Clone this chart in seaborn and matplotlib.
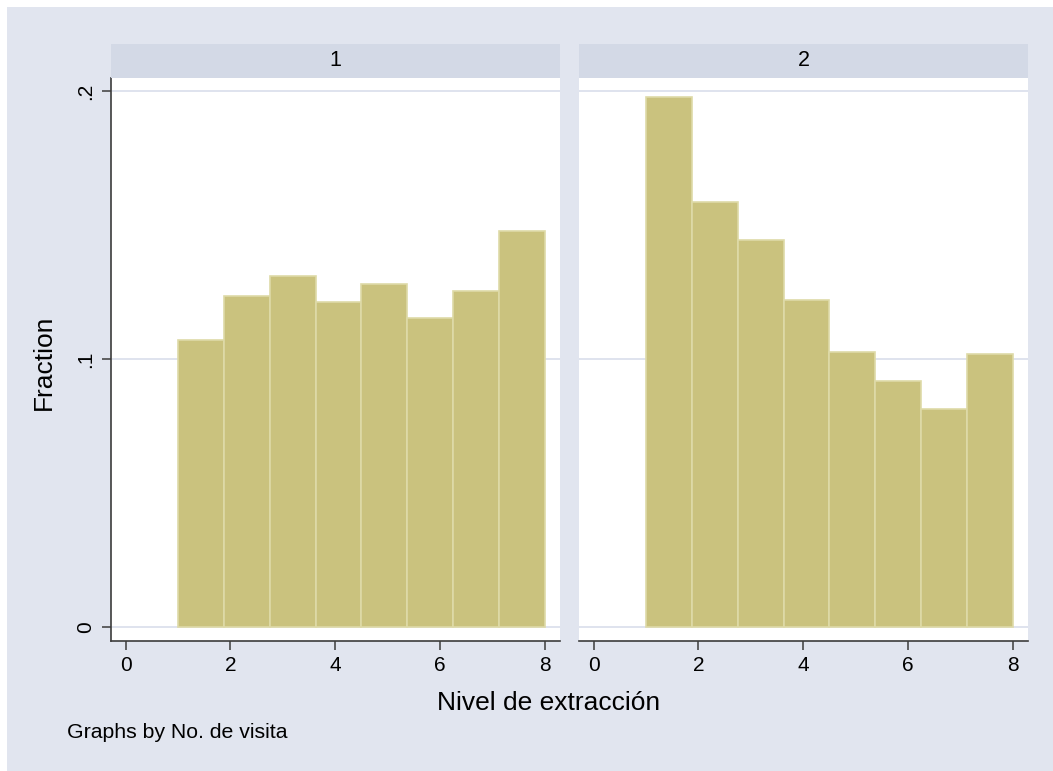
import numpy as np
import pandas as pd
import matplotlib
matplotlib.use("Agg")
import matplotlib.pyplot as plt
from matplotlib.patches import Rectangle
import seaborn as sns

# Histogram of extraction level by visit number (fractions per bin)
bin_edges = [1.0, 1.875, 2.75, 3.625, 4.5, 5.375, 6.25, 7.125, 8.0]
visits = ["1", "2"]
fraction_visit1 = [0.1071, 0.1236, 0.1310, 0.1214, 0.1279, 0.1153, 0.1255, 0.1479]
fraction_visit2 = [0.1979, 0.1588, 0.1445, 0.1221, 0.1026, 0.0919, 0.0814, 0.1019]
x_ticks = [0, 2, 4, 6, 8]
y_ticks = [0, 0.1, 0.2]
y_tick_labels = ["0", ".1", ".2"]

sns.set_theme(style="white")
plt.rcParams["font.family"] = ["Liberation Sans", "DejaVu Sans"]

W, H = 1053, 771
GRAPH_BG = "#E1E5EF"
STRIP_BG = "#D3D9E6"
GRID = "#DFE3EE"
BAR = "#CAC27E"
BAR_EDGE = "#DEDAA8"
AXIS = "#3C3C3C"

fig = plt.figure(figsize=(W / 100, H / 100), dpi=100, facecolor=GRAPH_BG)

# thin white margin along the top and left edges
fig.patches.append(Rectangle((0, 0), 7 / W, 1, transform=fig.transFigure,
                             facecolor="white", edgecolor="none", zorder=-10))
fig.patches.append(Rectangle((0, 1 - 7 / H), 1, 7 / H, transform=fig.transFigure,
                             facecolor="white", edgecolor="none", zorder=-10))


def fx(px):
    return px / W


def fy(py):
    return 1 - py / H


panels = [(111, 560), (579, 1028)]
top, bottom = 78, 641
strip_top = 44
data = [fraction_visit1, fraction_visit2]
edges = np.array(bin_edges)
centers = (edges[:-1] + edges[1:]) / 2

for i, ((l, r), vals, lab) in enumerate(zip(panels, data, visits)):
    ax = fig.add_axes([fx(l), fy(bottom), fx(r) - fx(l), fy(top) - fy(bottom)])
    ax.set_facecolor("white")
    df = pd.DataFrame({"nivel": centers, "fraction": vals})
    sns.histplot(data=df, x="nivel", weights="fraction", bins=list(bin_edges),
                 ax=ax, color=BAR, edgecolor=BAR_EDGE, linewidth=1.2,
                 alpha=1, zorder=3)
    ax.set_xlim(-0.28, 8.29)
    ax.set_ylim(-0.0052, 0.2049)
    for yv in y_ticks:
        ax.axhline(yv, color=GRID, lw=1.4, zorder=1)
    ax.set_xticks(x_ticks)
    ax.set_xticklabels([str(t) for t in x_ticks], fontsize=15)
    ax.set_yticks(y_ticks)
    ax.set_ylabel("")
    ax.set_xlabel("")
    for s in ["top", "right"]:
        ax.spines[s].set_visible(False)
    ax.spines["bottom"].set_color(AXIS)
    ax.spines["bottom"].set_linewidth(1.2)
    ax.tick_params(axis="x", direction="out", length=6.5, width=1.1,
                   color=AXIS, pad=4.5, bottom=True, labelcolor="black")
    if i == 0:
        ax.spines["left"].set_color(AXIS)
        ax.spines["left"].set_linewidth(1.2)
        ax.set_yticklabels(y_tick_labels, fontsize=15, rotation=90,
                           va="center")
        ax.tick_params(axis="y", direction="out", length=6.5, width=1.1,
                       color=AXIS, pad=5, left=True, labelcolor="black")
    else:
        ax.spines["left"].set_visible(False)
        ax.tick_params(axis="y", left=False, labelleft=False)
    ax.grid(False)

    # panel strip with visit number
    sax = fig.add_axes([fx(l), fy(top - 0.5), fx(r) - fx(l), fy(strip_top) - fy(top - 0.5)])
    sax.set_facecolor(STRIP_BG)
    sax.set_xticks([])
    sax.set_yticks([])
    for s in sax.spines.values():
        s.set_visible(False)
    sax.text(0.5, 0.5, lab, ha="center", va="center", fontsize=15.5,
             color="black", transform=sax.transAxes)

fig.text(fx(44), fy(362), "Fraction", rotation=90, ha="center", va="center",
         fontsize=19, color="black")
fig.text(fx(549), fy(703), "Nivel de extracción", ha="center", va="center",
         fontsize=19, color="black")
fig.text(fx(67), fy(733), "Graphs by No. de visita", ha="left", va="center",
         fontsize=15.3, color="black")

fig.savefig("out.png", dpi=100, facecolor=fig.get_facecolor())
